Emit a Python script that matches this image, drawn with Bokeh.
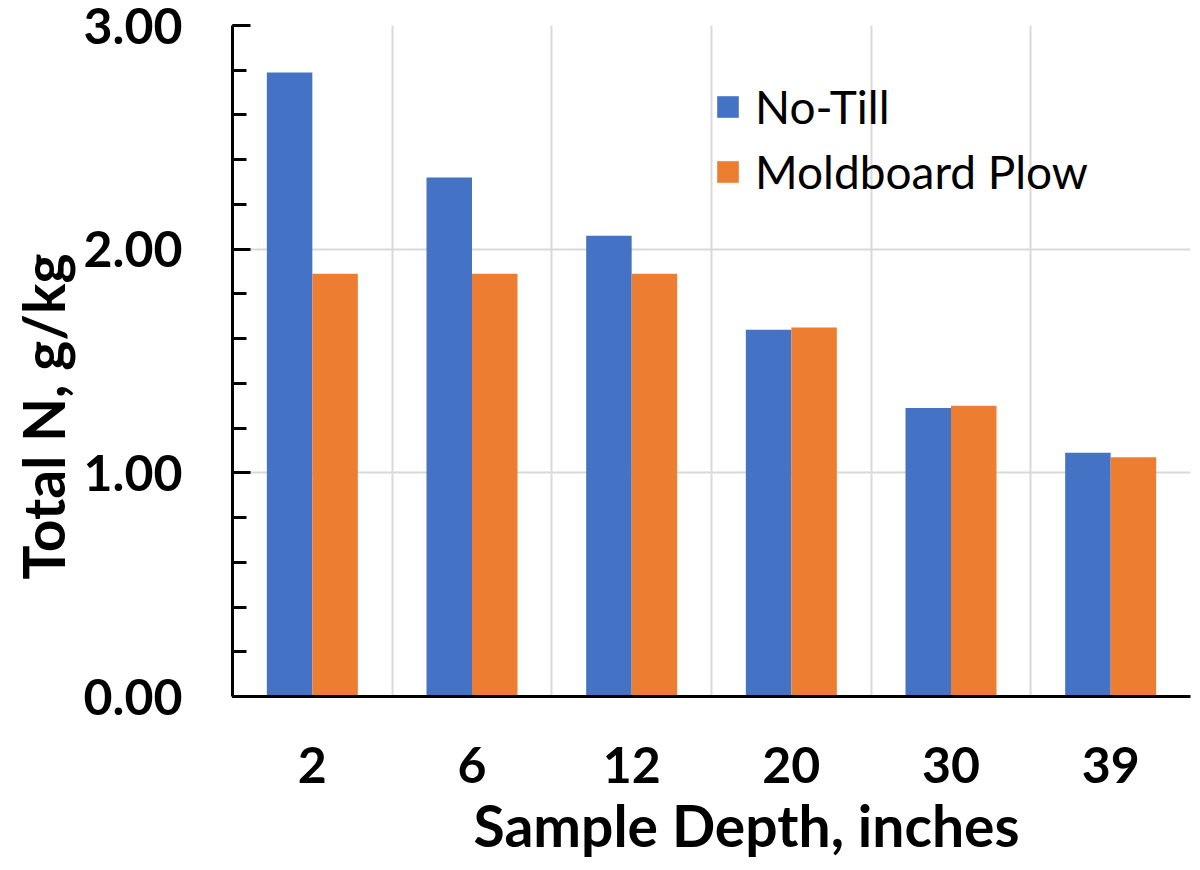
import numpy as np
from bokeh.plotting import figure
from bokeh.models import (ColumnDataSource, FixedTicker, NumeralTickFormatter,
                          Legend, LegendItem, Range1d, Title)
from bokeh.transform import dodge
from bokeh.embed import file_html
from bokeh.resources import INLINE

# ---- data ----
depths = ["2", "6", "12", "20", "30", "39"]
no_till = [2.79, 2.32, 2.06, 1.64, 1.29, 1.09]
moldboard = [1.89, 1.89, 1.89, 1.65, 1.30, 1.07]
series_names = ["No-Till", "Moldboard Plow"]
y_tick_values = [0, 1, 2, 3]
x_title = "Sample Depth, inches"
y_title = "Total N, g/kg"

BLUE = "#4472C4"
ORANGE = "#ED7D31"
FONT = "Lato"

pos = list(range(len(depths)))
src = ColumnDataSource(dict(x=pos, depth=depths, nt=no_till, mp=moldboard))

p = figure(width=1192, height=862, output_backend="svg", toolbar_location=None,
           x_range=Range1d(-0.5, len(depths) - 0.5), y_range=Range1d(0, 3),
           min_border_left=232, min_border_right=2, min_border_top=25,
           min_border_bottom=165)
p.outline_line_color = None
p.background_fill_color = "white"

bw = 0.285
r1 = p.vbar(x=dodge("x", -bw / 2), top="nt", width=bw, source=src,
            fill_color=BLUE, line_color=None)
r2 = p.vbar(x=dodge("x", bw / 2), top="mp", width=bw, source=src,
            fill_color=ORANGE, line_color=None)

# x axis
xa = p.xaxis[0]
xa.ticker = FixedTicker(ticks=pos)
xa.major_label_overrides = {i: d for i, d in zip(pos, depths)}
xa.major_tick_line_color = None
xa.minor_tick_line_color = None
xa.axis_line_width = 3
xa.axis_line_color = "black"
xa.major_label_text_font = FONT
xa.major_label_text_font_style = "bold"
xa.major_label_text_font_size = "50px"
xa.major_label_text_color = "black"
xa.major_label_standoff = 44

# y axis
ya = p.yaxis[0]
ya.ticker = FixedTicker(ticks=y_tick_values,
                        minor_ticks=[v / 5 for v in range(0, 16)])
ya.formatter = NumeralTickFormatter(format="0.00")
ya.axis_line_width = 3
ya.axis_line_color = "black"
ya.major_tick_in = 18
ya.major_tick_out = 0
ya.minor_tick_in = 14
ya.minor_tick_out = 0
ya.major_tick_line_width = 3
ya.minor_tick_line_width = 3
ya.major_tick_line_color = "black"
ya.minor_tick_line_color = "black"
ya.major_label_text_font = FONT
ya.major_label_text_font_style = "bold"
ya.major_label_text_font_size = "50px"
ya.major_label_text_color = "black"
ya.major_label_standoff = 50

# axis titles (placed off-centre as in the reference)
tx = Title(text=x_title, align="left", offset=241, standoff=7,
           text_font=FONT, text_font_style="bold", text_font_size="57px",
           text_color="black")
p.add_layout(tx, "below")
ty = Title(text=y_title, align="left", offset=117, standoff=8,
           text_font=FONT, text_font_style="bold", text_font_size="57px",
           text_color="black")
p.add_layout(ty, "left")

# grids
p.xgrid.ticker = FixedTicker(ticks=[i + 0.5 for i in pos])
p.xgrid.grid_line_color = "#D9D9D9"
p.xgrid.grid_line_width = 2
p.ygrid.ticker = FixedTicker(ticks=y_tick_values[1:])
p.ygrid.grid_line_color = "#D9D9D9"
p.ygrid.grid_line_width = 2

legend = Legend(items=[LegendItem(label=series_names[0], renderers=[r1]),
                       LegendItem(label=series_names[1], renderers=[r2])],
                location=(482, 497))
legend.background_fill_alpha = 0
legend.border_line_color = None
legend.padding = 0
legend.margin = 0
legend.glyph_width = 27
legend.glyph_height = 27
legend.label_standoff = 14
legend.spacing = 10
legend.label_text_font = FONT
legend.label_text_font_size = "46px"
legend.label_text_color = "black"
p.add_layout(legend)

open("out.html", "w").write(file_html(p, INLINE))
